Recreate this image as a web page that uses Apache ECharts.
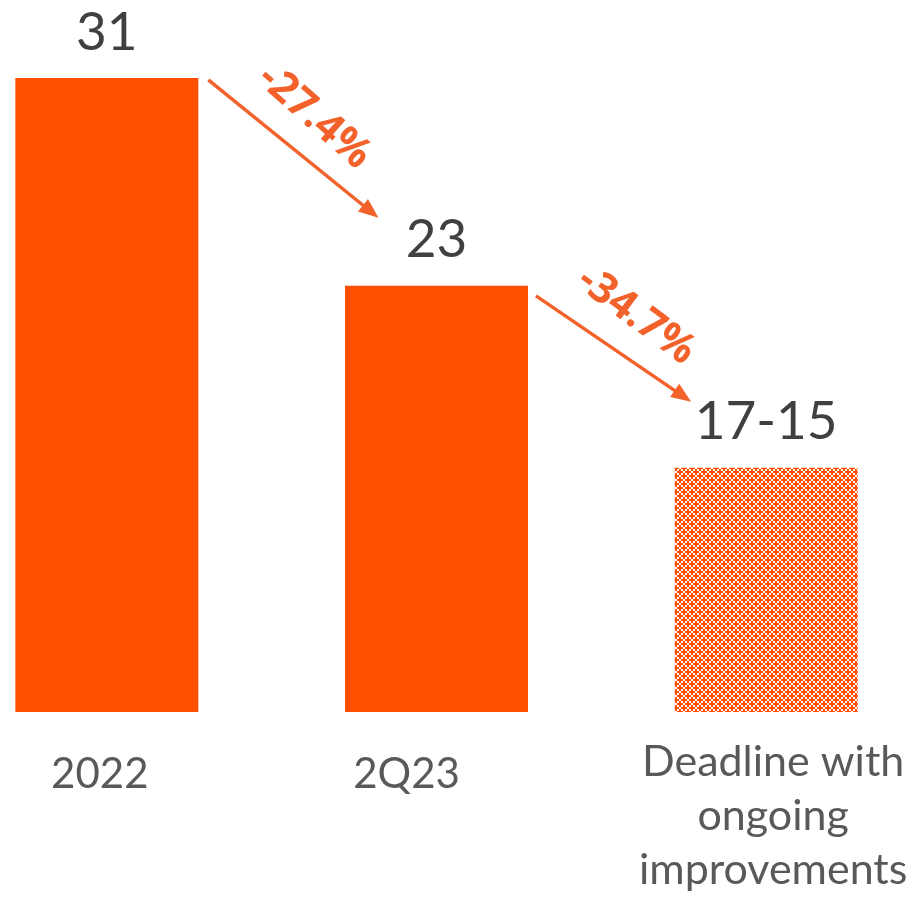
<!DOCTYPE html>
<html>
<head>
<meta charset="utf-8">
<script src="https://cdn.jsdelivr.net/npm/echarts@6/dist/echarts.min.js"></script>
<style>
html,body{margin:0;padding:0;background:#fff;}
#chart{width:921px;height:902px;}
</style>
</head>
<body>
<div id="chart"></div>
<script>
// ---- data ----
const categories = ['2022', '2Q23', 'Deadline with\nongoing\nimprovements'];
const values = [31, 23, 16];            // 17-15 range drawn at its midpoint
const valueLabels = ['31', '23', '17-15'];
const changes = ['-27.4%', '-34.7%'];

// ---- styles ----
const BAR = '#FE5000';
const ARROW = '#F2622A';
const FONT = 'Lato';

function makePattern() {
  const c = document.createElement('canvas');
  c.width = 8; c.height = 8;
  const g = c.getContext('2d');
  g.fillStyle = '#ffffff';
  g.fillRect(0, 0, 8, 8);
  g.fillStyle = '#FFC4AA';
  g.fillRect(2, 2, 1, 1); g.fillRect(6, 6, 1, 1);
  g.fillStyle = BAR;
  // plus centred in tile
  g.fillRect(3, 1, 2, 6);
  g.fillRect(1, 3, 6, 2);
  // plus centred on tile corners
  g.fillRect(7, 0, 1, 3); g.fillRect(0, 0, 1, 3);
  g.fillRect(7, 5, 1, 3); g.fillRect(0, 5, 1, 3);
  g.fillRect(0, 7, 3, 1); g.fillRect(0, 0, 3, 1);
  g.fillRect(5, 7, 3, 1); g.fillRect(5, 0, 3, 1);
  return c;
}

const chart = echarts.init(document.getElementById('chart'), null, {renderer: 'canvas'});

const seriesData = values.map((v, i) => i === 2
  ? {value: v, itemStyle: {color: {image: makePattern(), repeat: 'repeat'}}}
  : {value: v});

chart.setOption({
  animation: false,
  backgroundColor: '#ffffff',
  grid: {left: -58, right: -10, top: 0, bottom: 190, containLabel: false, outerBoundsMode: 'none'},
  xAxis: {
    type: 'category',
    data: categories,
    axisLine: {show: false},
    axisTick: {show: false},
    axisLabel: {
      interval: 0,
      margin: 23,
      fontFamily: FONT,
      fontSize: 43,
      color: '#595959',
      formatter: function (val, idx) {
        if (idx === 2) return val.split('\n').map(s => '{c|' + s + '}').join('\n');
        return '{s' + idx + '|' + val + '}';
      },
      rich: {
        s0: {fontFamily: FONT, fontSize: 42, color: '#595959', lineHeight: 79, padding: [0, 14, 0, 0]},
        s1: {fontFamily: FONT, fontSize: 42, color: '#595959', lineHeight: 79, padding: [0, 60, 0, 0]},
        c: {fontFamily: FONT, fontSize: 43, color: '#595959', lineHeight: 54, padding: [0, 0, 0, 14]}
      }
    }
  },
  yAxis: {
    type: 'value',
    min: 6.6,
    max: 34,
    show: false,
    splitLine: {show: false}
  },
  series: [{
    type: 'bar',
    data: seriesData,
    barWidth: 183,
    itemStyle: {color: BAR},
    label: {
      show: true,
      position: 'top',
      distance: 19,
      fontFamily: FONT,
      fontSize: 53,
      lineHeight: 53,
      color: '#404040',
      formatter: p => valueLabels[p.dataIndex]
    }
  }]
});

// ---- arrows with percentage changes, positioned from the bars ----
const px = values.map((v, i) => chart.convertToPixel({seriesIndex: 0}, [i, v]));
const half = 183 / 2;
const arrows = [
  {from: [px[0][0] + half + 10, px[0][1] + 2], to: [px[1][0] - 58, px[1][1] - 68], text: changes[0], off: 38, along: -4},
  {from: [px[1][0] + half + 8, px[1][1] + 10], to: [px[2][0] - 75, px[2][1] - 66], text: changes[1], off: 40, along: 0}
];
const graphics = [];
arrows.forEach(a => {
  const dx = a.to[0] - a.from[0], dy = a.to[1] - a.from[1];
  const len = Math.sqrt(dx * dx + dy * dy);
  const ux = dx / len, uy = dy / len;
  const nx = uy, ny = -ux;      // normal pointing up-right
  const headL = 20, headW = 8;
  const bx = a.to[0] - ux * headL, by = a.to[1] - uy * headL;
  graphics.push({
    type: 'line', silent: true,
    shape: {x1: a.from[0], y1: a.from[1], x2: bx + ux * 2, y2: by + uy * 2},
    style: {stroke: ARROW, lineWidth: 3.5}
  });
  graphics.push({
    type: 'polygon', silent: true,
    shape: {points: [[a.to[0], a.to[1]], [bx + nx * headW, by + ny * headW], [bx - nx * headW, by - ny * headW]]},
    style: {fill: ARROW}
  });
  const mx = (a.from[0] + a.to[0]) / 2 + nx * a.off + ux * a.along;
  const my = (a.from[1] + a.to[1]) / 2 + ny * a.off + uy * a.along;
  graphics.push({
    type: 'text', silent: true,
    x: mx, y: my,
    rotation: -Math.atan2(dy, dx) - 0.04,
    style: {text: a.text, fill: ARROW, font: 'bold 42px "Open Sans"', align: 'center', verticalAlign: 'middle'}
  });
});
chart.setOption({graphic: graphics});
</script>
</body>
</html>
